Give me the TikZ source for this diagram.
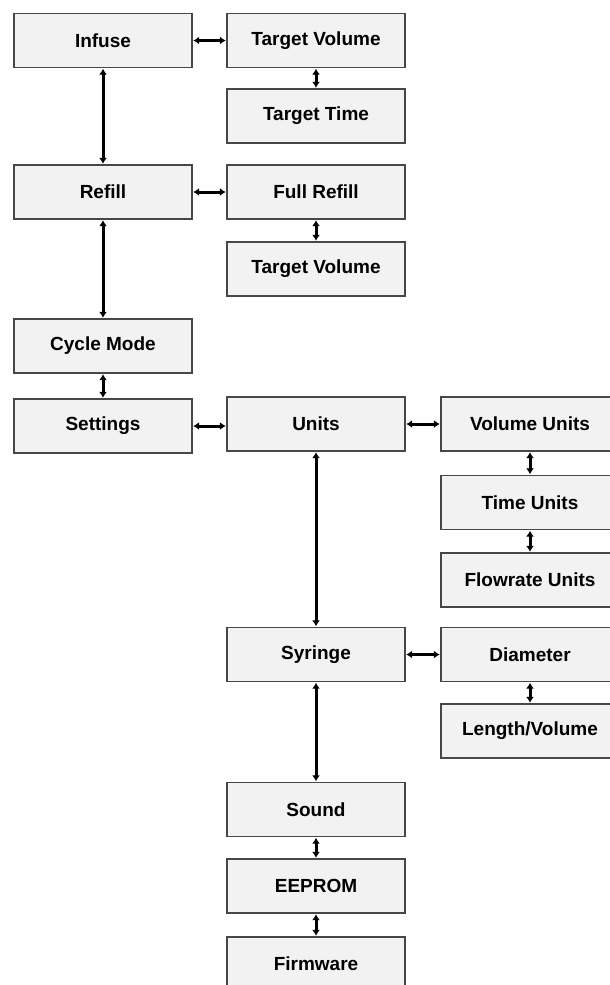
\documentclass[tikz,border=0pt]{standalone}
\usepackage{fontspec}
\setmainfont{Liberation Sans}
\usetikzlibrary{arrows.meta}
\definecolor{boxfill}{HTML}{F2F2F2}
\definecolor{boxline}{HTML}{474747}
\begin{document}
\begin{tikzpicture}[x=1pt,y=-1pt,
  menubox/.style={draw=boxline,line width=1.4pt,fill=boxfill,minimum width=178pt,minimum height=54pt,inner sep=0pt,font=\fontsize{19}{22}\selectfont\bfseries},
  link/.style={line width=3pt,{Latex[length=6pt,width=8pt]}-{Latex[length=6pt,width=8pt]},shorten <=0.5pt,shorten >=0.5pt}]
\useasboundingbox (0,0) rectangle (610,985);
\clip (0,0) rectangle (610,985);
\fill[white] (0,0) rectangle (610,985);
% left column
\node[menubox] (infuse) at (103,40.5) {Infuse};
\node[menubox] (refill) at (103,192) {Refill};
\node[menubox] (cycle) at (103,346) {Cycle Mode};
\node[menubox] (settings) at (103,426) {Settings};
% middle column
\node[menubox] (tvol) at (316,40.5) {Target Volume};
\node[menubox] (ttime) at (316,116) {Target Time};
\node[menubox] (full) at (316,192) {Full Refill};
\node[menubox] (tvol2) at (316,269) {Target Volume};
\node[menubox] (units) at (316,424) {Units};
\node[menubox] (syringe) at (316,654.5) {Syringe};
\node[menubox] (sound) at (316,809.5) {Sound};
\node[menubox] (eeprom) at (316,886) {EEPROM};
\node[menubox] (firmware) at (316,964) {Firmware};
% right column
\node[menubox] (vunits) at (530,424) {Volume Units};
\node[menubox] (tunits) at (530,502.5) {Time Units};
\node[menubox] (funits) at (530,580) {Flowrate Units};
\node[menubox] (diam) at (530,654.5) {Diameter};
\node[menubox] (lenvol) at (530,731) {Length/Volume};
% connectors
\draw[link] (infuse) -- (tvol);
\draw[link] (tvol) -- (ttime);
\draw[link] (infuse) -- (refill);
\draw[link] (refill) -- (full);
\draw[link] (full) -- (tvol2);
\draw[link] (refill) -- (cycle);
\draw[link] (cycle) -- (settings);
\draw[link] (settings.east) -- (settings.east -| units.west);
\draw[link] (units) -- (vunits);
\draw[link] (vunits) -- (tunits);
\draw[link] (tunits) -- (funits);
\draw[link] (units) -- (syringe);
\draw[link] (syringe) -- (diam);
\draw[link] (diam) -- (lenvol);
\draw[link] (syringe) -- (sound);
\draw[link] (sound) -- (eeprom);
\draw[link] (eeprom) -- (firmware);
\end{tikzpicture}
\end{document}
